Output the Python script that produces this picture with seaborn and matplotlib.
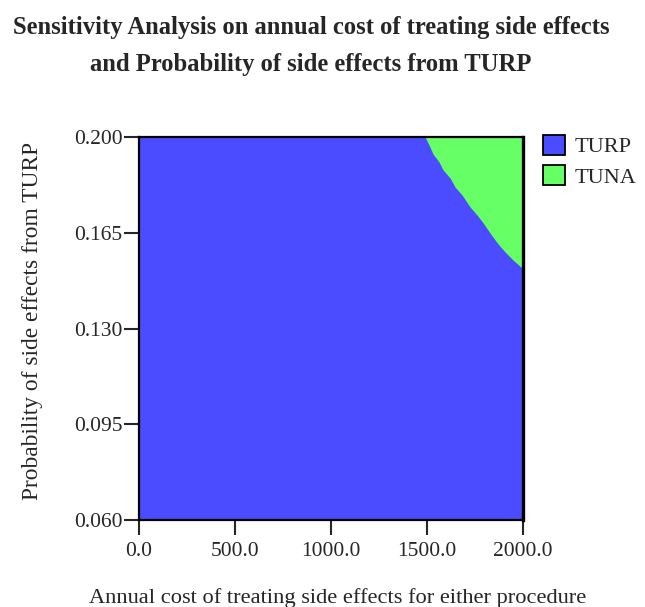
import numpy as np
import seaborn as sns
import matplotlib.pyplot as plt
from matplotlib.patches import Patch

# ticks of the two axes
cost_ticks = [0.0, 500.0, 1000.0, 1500.0, 2000.0]
prob_ticks = [0.060, 0.095, 0.130, 0.165, 0.200]

# threshold where TUNA becomes preferred
boundary_cost = [1490, 1510, 1531, 1562, 1583, 1620, 1646, 1682, 1724,
                 1760, 1792, 1828, 1865, 1906, 1948, 1995, 2000]
boundary_prob = [0.2000, 0.1971, 0.1938, 0.1909, 0.1880, 0.1850, 0.1817,
                 0.1788, 0.1744, 0.1715, 0.1686, 0.1649, 0.1613, 0.1580,
                 0.1550, 0.1521, 0.1515]

strategies = ['TURP', 'TUNA']
colors = {'TURP': '#4b4bff', 'TUNA': '#66ff66'}

sns.set_style('ticks')
plt.rcParams['font.family'] = ['Liberation Serif', 'DejaVu Serif']

fig = plt.figure(figsize=(6.45, 6.07), dpi=100)
ax = fig.add_axes([0.2155, 0.1433, 0.5955, 0.631])

ax.fill_between([cost_ticks[0], cost_ticks[-1]], prob_ticks[0], prob_ticks[-1],
                color=colors['TURP'], linewidth=0)
ax.fill_between(boundary_cost, boundary_prob, prob_ticks[-1],
                color=colors['TUNA'], linewidth=0)

ax.set_xlim(cost_ticks[0], cost_ticks[-1])
ax.set_ylim(prob_ticks[0], prob_ticks[-1])
ax.set_xticks(cost_ticks)
ax.set_xticklabels([f'{v:.1f}' for v in cost_ticks])
ax.set_yticks(prob_ticks)
ax.set_yticklabels([f'{v:.3f}' for v in prob_ticks])
ax.tick_params(direction='out', length=10.5, width=1.5, labelsize=15.5, pad=1.5)
ax.tick_params(axis='x', pad=5)
for s in ax.spines.values():
    s.set_linewidth(1.6)
    s.set_color('black')
ax.spines['right'].set_linewidth(2.4)

ax.set_xlabel('Annual cost of treating side effects for either procedure',
              fontsize=16.1, va='center')
ax.xaxis.set_label_coords(0.518, -0.204)
ax.set_ylabel('Probability of side effects from TURP', fontsize=16.8, va='center')
ax.yaxis.set_label_coords(-0.278, 0.52)

fig.text(0.482, 0.955, 'Sensitivity Analysis on annual cost of treating side effects',
         ha='center', va='center', fontsize=17.7, fontweight='bold')
fig.text(0.482, 0.893, 'and Probability of side effects from TURP',
         ha='center', va='center', fontsize=17.7, fontweight='bold')

handles = [Patch(facecolor=colors[s], edgecolor='black', linewidth=1.3, label=s)
           for s in strategies]
fig.legend(handles=handles, loc='upper left', bbox_to_anchor=(0.842, 0.778),
           frameon=False, fontsize=16, handlelength=1.0, handleheight=1.0,
           handletextpad=0.4, labelspacing=0.35, borderaxespad=0, borderpad=0)

fig.savefig('out.png', dpi=100)
